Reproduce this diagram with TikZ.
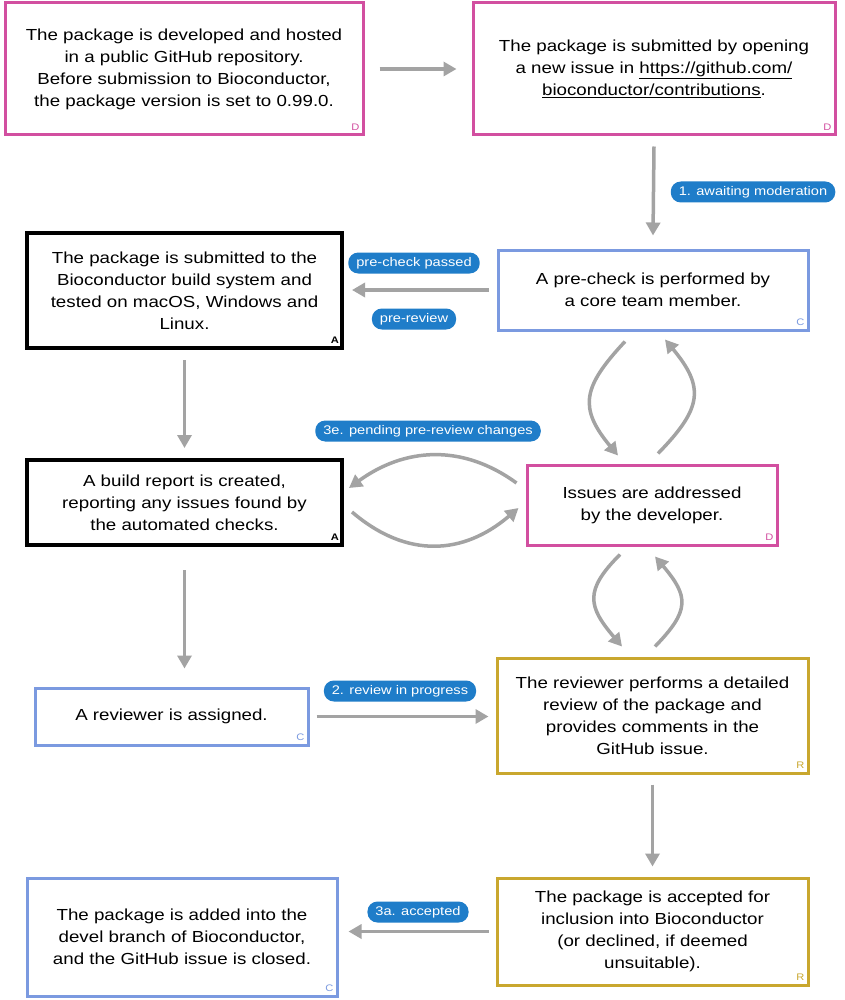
\documentclass[tikz,border=0pt]{standalone}
\usepackage{fontspec}
\setmainfont{Liberation Sans}[FakeStretch=1.17]
\usetikzlibrary{arrows.meta,calc}
\definecolor{cpink}{HTML}{D24FA0}
\definecolor{cblue}{HTML}{7B9AE0}
\definecolor{cgold}{HTML}{C9A72E}
\definecolor{clab}{HTML}{1F7DC9}
\definecolor{carr}{HTML}{A3A3A3}
\begin{document}
\begin{tikzpicture}[x=1pt,y=1pt,
  box/.style={draw,line width=3pt,fill=white,align=center,inner sep=0pt,
    font=\fontsize{16}{22}\selectfont},
  pinkbox/.style={box,draw=cpink},
  bluebox/.style={box,draw=cblue},
  goldbox/.style={box,draw=cgold},
  blackbox/.style={box,draw=black,line width=4pt},
  lab/.style={fill=clab,text=white,rounded corners=10pt,inner xsep=8pt,inner ysep=3pt,
    font=\fontsize{12.5}{14}\selectfont,minimum height=21pt},
  corner/.style={font=\fontsize{9.5}{10}\selectfont,anchor=south east,inner sep=0pt},
  arr/.style={draw=carr,line width=3.5pt,-{Triangle[length=13pt,width=14pt]}},
]
\useasboundingbox (0,0) rectangle (844,-1000);
\fill[white] (0,0) rectangle (844,-1000);

\node[pinkbox,minimum width=358pt,minimum height=132pt] (b1) at (184,-69)
  {The package is developed and hosted\\in a public GitHub repository.\\Before submission to Bioconductor,\\the package version is set to 0.99.0.};
\node[corner,text=cpink] (c1) at ([xshift=-5pt,yshift=6pt]b1.south east) {D};

\node[pinkbox,minimum width=362pt,minimum height=132pt] (b2) at (654,-69)
  {The package is submitted by opening\\a new issue in \underline{https://github.com/}\\\underline{bioconductor/contributions}.};
\node[corner,text=cpink] (c2) at ([xshift=-5pt,yshift=6pt]b2.south east) {D};

\node[bluebox,minimum width=310pt,minimum height=80pt] (b3) at (653,-290)
  {A pre-check is performed by\\a core team member.};
\node[corner,text=cblue] (c3) at ([xshift=-5pt,yshift=6pt]b3.south east) {C};

\node[blackbox,minimum width=315pt,minimum height=115pt] (b4) at (184.5,-290.5)
  {The package is submitted to the\\Bioconductor build system and\\tested on macOS, Windows and\\Linux.};
\node[corner,text=black,font=\fontsize{9.5}{10}\selectfont\bfseries] (c4) at ([xshift=-5pt,yshift=6pt]b4.south east) {A};

\node[blackbox,minimum width=315pt,minimum height=85pt] (b5) at (184.5,-502.5)
  {A build report is created,\\reporting any issues found by\\the automated checks.};
\node[corner,text=black,font=\fontsize{9.5}{10}\selectfont\bfseries] (c5) at ([xshift=-5pt,yshift=6pt]b5.south east) {A};

\node[pinkbox,minimum width=250pt,minimum height=80pt] (b6) at (652,-505)
  {Issues are addressed\\by the developer.};
\node[corner,text=cpink] (c6) at ([xshift=-5pt,yshift=6pt]b6.south east) {D};

\node[bluebox,minimum width=273pt,minimum height=57pt] (b7) at (171.5,-716.5)
  {A reviewer is assigned.};
\node[corner,text=cblue] (c7) at ([xshift=-5pt,yshift=6pt]b7.south east) {C};

\node[goldbox,minimum width=311pt,minimum height=115pt] (b8) at (652.5,-715.5)
  {The reviewer performs a detailed\\review of the package and\\provides comments in the\\GitHub issue.};
\node[corner,text=cgold] (c8) at ([xshift=-5pt,yshift=6pt]b8.south east) {R};

\node[goldbox,minimum width=311pt,minimum height=107pt] (b9) at (652.5,-931.5)
  {The package is accepted for\\inclusion into Bioconductor\\(or declined, if deemed\\unsuitable).};
\node[corner,text=cgold] (c9) at ([xshift=-5pt,yshift=6pt]b9.south east) {R};

\node[bluebox,minimum width=310pt,minimum height=118pt] (b10) at (182,-937)
  {The package is added into the\\devel branch of Bioconductor,\\and the GitHub issue is closed.};
\node[corner,text=cblue] (c10) at ([xshift=-5pt,yshift=6pt]b10.south east) {C};

% straight arrows
\draw[arr] ([xshift=15pt]b1.east) -- ([xshift=-15pt]b2.west);
\draw[arr] ([yshift=-10pt]b2.south) -- ([yshift=13pt]b3.north);
\draw[arr] ([xshift=-8pt]b3.west) -- ([xshift=8pt]b4.east |- b3.west);
\draw[arr] ([yshift=-10pt]b4.south) -- ([yshift=10pt]b5.north);
\draw[arr] ([yshift=-23pt]b5.south) -- ([yshift=18pt]b5.south |- b7.north);
\draw[arr] ([xshift=7pt]b7.east) -- ([xshift=-7pt]b7.east -| b8.west);
\draw[arr] ([yshift=-10pt]b8.south) -- ([yshift=10pt]b9.north);
\draw[arr] ([xshift=-7pt]b9.west) -- ([xshift=10pt]b10.east |- b9.west);

% curved arrows between b3 and b6
\draw[arr] ([xshift=-28pt,yshift=-10pt]b3.south) .. controls +(-42,-45) and +(-40,48) .. ([xshift=-34pt,yshift=8pt]b6.north);
\draw[arr] ([xshift=6pt,yshift=10pt]b6.north) .. controls +(44,45) and +(40,-48) .. ([xshift=12pt,yshift=-8pt]b3.south);

% curved arrows between b5 and b6
\draw[arr] ([xshift=-9pt,yshift=22pt]b6.west) .. controls +(-55,40) and +(55,40) .. ([xshift=5pt,yshift=14.5pt]b5.east);
\draw[arr] ([xshift=8pt,yshift=-9.5pt]b5.east) .. controls +(55,-47) and +(-55,-47) .. ([xshift=-7pt,yshift=-3pt]b6.west);

% curved arrows between b6 and b8
\draw[arr] ([xshift=-32pt,yshift=-8pt]b6.south) .. controls +(-36,-36) and +(-34,40) .. ([xshift=-30.5pt,yshift=10pt]b8.north);
\draw[arr] ([xshift=2.5pt,yshift=10pt]b8.north) .. controls +(35,36) and +(34,-40) .. ([xshift=3pt,yshift=-10pt]b6.south);

% labels
\node[lab] (l1) at (753,-192) {1. awaiting moderation};
\node[lab] (l2) at (414,-263) {pre-check passed};
\node[lab] (l3) at (414,-319) {pre-review};
\node[lab] (l4) at (428,-431) {3e. pending pre-review changes};
\node[lab] (l5) at (400,-691) {2. review in progress};
\node[lab] (l6) at (418,-912) {3a. accepted};
\end{tikzpicture}
\end{document}
